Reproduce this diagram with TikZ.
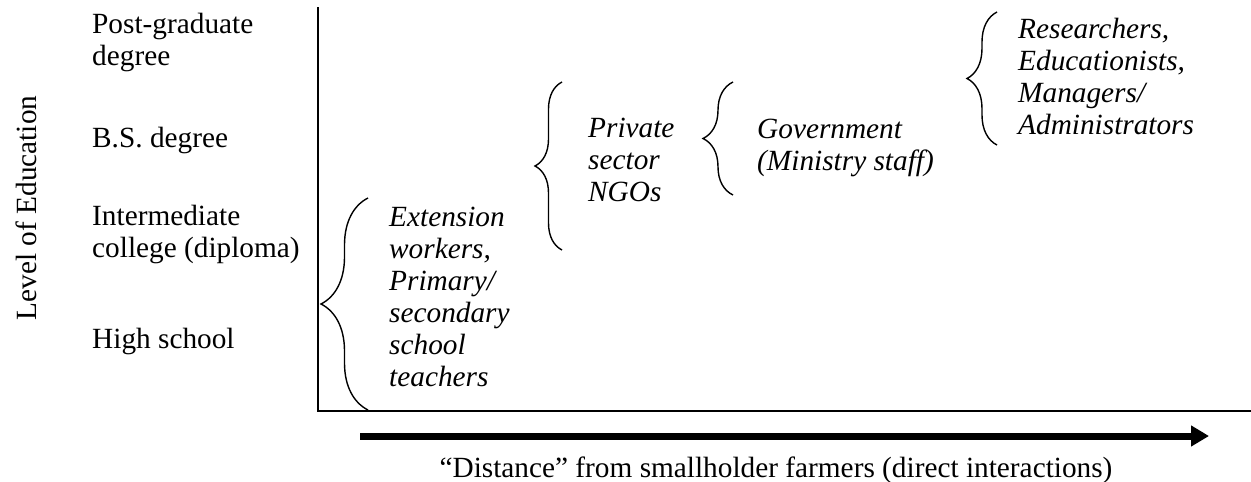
\documentclass[tikz,border=0pt]{standalone}
\usepackage{fontspec}
\setmainfont{Liberation Serif}
\usepackage{tikz}
\usetikzlibrary{arrows.meta, positioning, decorations.pathreplacing}

\begin{document}
\begin{tikzpicture}[
                x=1pt, y=-1pt,
                every node/.style={inner sep=0pt, font=\fontsize{29.3}{32}\selectfont},
                level/.style={anchor=base west, align=left},
                group/.style={anchor=base west, align=left, font=\fontsize{29.3}{32}\selectfont\itshape},
                axis/.style={line width=2.4pt},
                curly/.style={line width=1.4pt, decorate, decoration={brace, amplitude=#1}}
            ]
            \useasboundingbox (0,0) rectangle (1251,482);

            % Axes
            \coordinate (origin) at (318,411);
            \coordinate (ytop) at (318,7);
            \coordinate (xend) at (1251,411);
            \draw[axis] (ytop) -- (origin) -- (xend);

            % Niveaux d'education (ancre = ligne de base de la derniere ligne)
            \node[rotate=90] (ylabel) at (26,208) {Level of Education};
            \node[level] (postgrad) at (92,65) {Post-graduate\\degree};
            \node[level] (bs) at (92,147) {B.S. degree};
            \node[level] (inter) at (92,257) {Intermediate\\college (diploma)};
            \node[level] (high) at (92,348) {High school};

            % Accolades et groupes
            \coordinate (ext-top) at (368,198);
            \coordinate (ext-bot) at (368,410);
            \draw[curly=47pt] (ext-bot) -- (ext-top);
            \node[group] (ext) at (389,386) {Extension\\workers,\\Primary/\\secondary\\school\\teachers};

            \coordinate (priv-top) at (562,82);
            \coordinate (priv-bot) at (562,250);
            \draw[curly=27pt] (priv-bot) -- (priv-top);
            \node[group] (priv) at (588,201) {Private\\sector\\NGOs};

            \coordinate (gov-top) at (733,82);
            \coordinate (gov-bot) at (733,195);
            \draw[curly=30pt] (gov-bot) -- (gov-top);
            \node[group] (gov) at (757,170) {Government\\(Ministry staff)};

            \coordinate (res-top) at (997,12);
            \coordinate (res-bot) at (997,145);
            \draw[curly=30pt] (res-bot) -- (res-top);
            \node[group] (res) at (1018,134) {Researchers,\\Educationists,\\Managers/\\Administrators};

            % Distance
            \coordinate (arr-start) at (360,436);
            \coordinate (arr-end) at (1209,436);
            \draw[line width=7pt, -{Triangle[length=18pt, width=20pt]}] (arr-start) -- (arr-end);
            \node[anchor=base] (xlabel) at (776,477) {``Distance'' from smallholder farmers (direct interactions)};
        \end{tikzpicture}
\end{document}
